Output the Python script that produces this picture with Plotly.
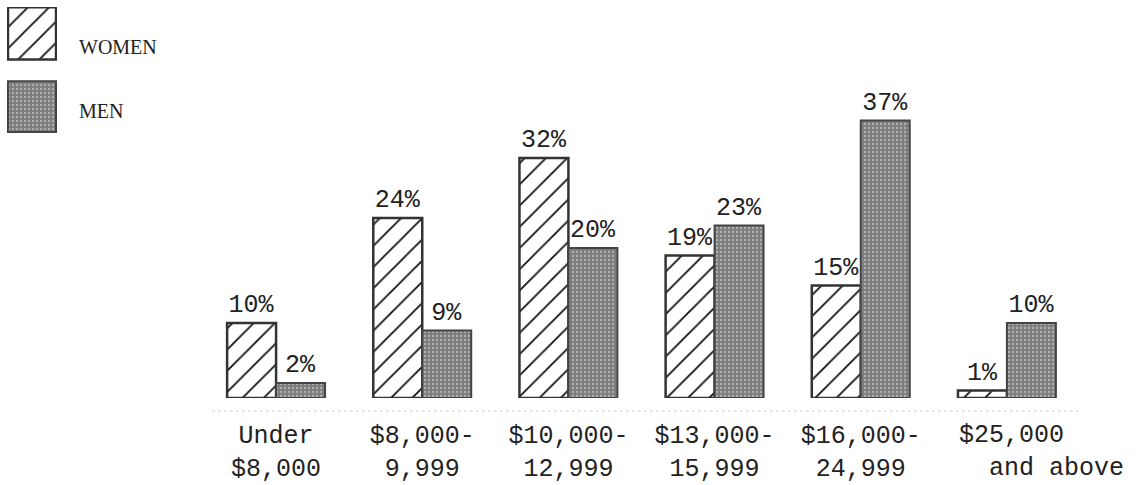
import plotly.graph_objects as go

categories = ["Under $8,000", "$8,000-9,999", "$10,000-12,999",
              "$13,000-15,999", "$16,000-24,999", "$25,000 and above"]
tick_labels = ["Under<br>$8,000", "$8,000-<br>9,999", "$10,000-<br>12,999",
               "$13,000-<br>15,999", "$16,000-<br>24,999",
               "$25,000<br>\u00a0\u00a0and above"]
women = [10, 24, 32, 19, 15, 1]
men = [2, 9, 20, 23, 37, 10]
series_names = ["WOMEN", "MEN"]

W, H = 1138, 485
plot_bottom_px = 398  # plot area height (margin b=87)
mono = "Liberation Mono, Courier New, monospace"
serif = "Liberation Serif, Times New Roman, serif"

women_marker = dict(color="white",
                    pattern=dict(shape="/", bgcolor="white", fgcolor="#111111",
                                 size=15, solidity=0.12, fillmode="replace"),
                    line=dict(color="#333333", width=2.5))
men_marker = dict(color="#848484",
                  pattern=dict(shape=".", bgcolor="#7e7e7e", fgcolor="#b2b2b2",
                               size=4, solidity=0.25, fillmode="replace"),
                  line=dict(color="#444444", width=2))

fig = go.Figure()
fig.add_trace(go.Bar(x=categories, y=women, name=series_names[0], marker=women_marker,
                     text=[f"{v}%" for v in women], textposition="outside",
                     textfont=dict(family=mono, size=25, color="#222"),
                     constraintext="none", cliponaxis=False, showlegend=False))
fig.add_trace(go.Bar(x=categories, y=men, name=series_names[1], marker=men_marker,
                     text=[f"{v}%" for v in men], textposition="outside",
                     textfont=dict(family=mono, size=25, color="#222"),
                     constraintext="none", cliponaxis=False, showlegend=False))

# legend swatches as an inset axis
fig.add_trace(go.Bar(x=[1], y=[1], orientation="h", marker=women_marker, width=0.71,
                     xaxis="x2", yaxis="y2", showlegend=False, hoverinfo="skip"))
fig.add_trace(go.Bar(x=[1], y=[0], orientation="h", marker=men_marker, width=0.69,
                     xaxis="x2", yaxis="y2", showlegend=False, hoverinfo="skip"))

def py(px):
    return (plot_bottom_px - px) / plot_bottom_px

# last category label is offset to the right in the original, so place it as an annotation
fig.update_layout(
    width=W, height=H,
    margin=dict(l=0, r=0, t=0, b=H - plot_bottom_px),
    paper_bgcolor="white", plot_bgcolor="white",
    barmode="group", bargap=0.33, bargroupgap=0,
    xaxis=dict(domain=[203 / W, 1080 / W], range=[-0.5, len(categories) - 0.5],
               showgrid=False, zeroline=False,
               showline=False, ticks="outside", ticklen=14, tickcolor="rgba(0,0,0,0)",
               tickmode="array", tickvals=categories[:-1], ticktext=tick_labels[:-1],
               tickangle=0, automargin=False,
               tickfont=dict(family=mono, size=25, color="#222")),
    yaxis=dict(domain=[0, py(98)], range=[0, 40], visible=False, automargin=False),
    xaxis2=dict(domain=[7 / W, 57 / W], range=[-0.02, 1.02], visible=False, anchor="y2"),
    yaxis2=dict(domain=[py(133), py(7)], range=[-0.36, 1.36], visible=False, anchor="x2"),
    annotations=[
        dict(text="WOMEN", x=77 / W, y=py(47), xref="paper", yref="paper",
             xanchor="left", yanchor="middle", showarrow=False,
             font=dict(family=serif, size=20, color="#222")),
        dict(text="MEN", x=77 / W, y=py(111), xref="paper", yref="paper",
             xanchor="left", yanchor="middle", showarrow=False,
             font=dict(family=serif, size=20, color="#222")),
        dict(text=tick_labels[-1], x=categories[-1], xref="x", y=py(452), yref="paper",
             xanchor="left", yanchor="middle", xshift=-50, align="left", showarrow=False,
             font=dict(family=mono, size=25, color="#222")),
    ],
    shapes=[dict(type="line", xref="x domain", yref="paper", x0=0.01, x1=1.0,
                 y0=py(411), y1=py(411),
                 line=dict(color="#d0d0d0", width=1, dash="dot"))],
)

fig.write_html("out.html")
